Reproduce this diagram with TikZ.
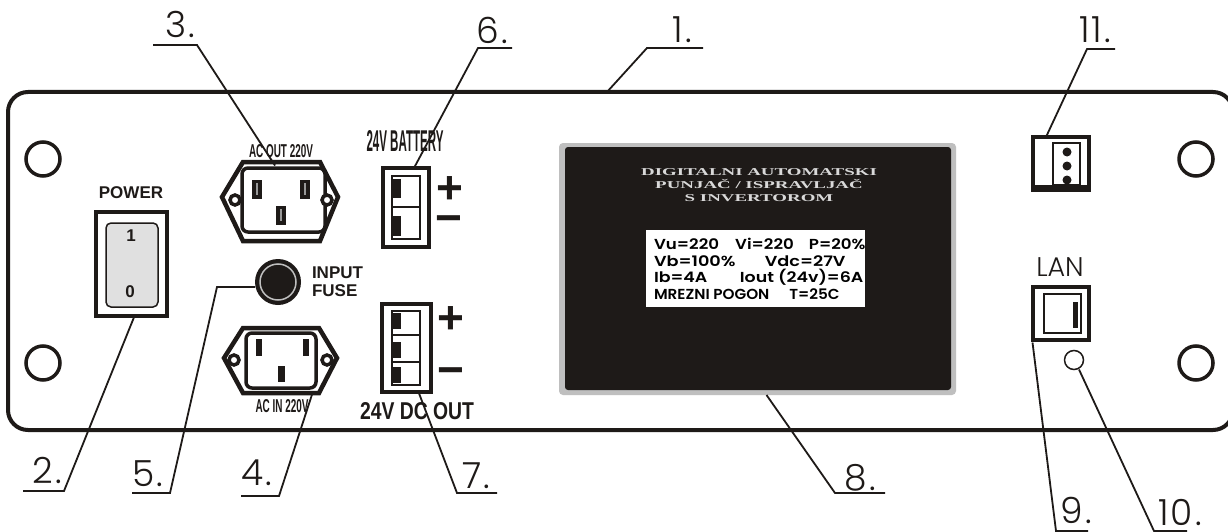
\documentclass[tikz,border=0pt]{standalone}
\usepackage{fontspec}
\setmainfont{Liberation Sans}
\newfontfamily\thinFont[LetterSpace=6]{Poppins Light}
\newfontfamily\lanFont{Poppins Light}
\newfontfamily\lcdFont{Poppins SemiBold}
\newfontfamily\titleFont{Liberation Serif}
\usetikzlibrary{positioning}
\definecolor{inkBlack}{HTML}{1E1A18}
\newcommand{\squeezed}[3]{\resizebox{#1}{#2}{\bfseries #3}}
\newcommand{\titleLine}[1]{\scalebox{1.8}[1]{#1}}
\newcommand{\lcdLine}[2]{\scalebox{#1}[1]{#2}}
\tikzset{x=1pt,y=-1pt,
		every node/.style={align=center,inner sep=0pt,outer sep=0pt,text=inkBlack},
		panel/.style={draw=inkBlack,line width=4pt,rounded corners=20pt},
		hole/.style={circle,draw=inkBlack,line width=3.5pt,minimum size=34pt},
		screw/.style={circle,draw=inkBlack,fill=white,line width=3.5pt,minimum size=10pt},
		boxOuter/.style={rectangle,draw=inkBlack,line width=3.5pt},
		boxInner/.style={rectangle,draw=inkBlack,line width=1.5pt,fill=white},
		socketPin/.style={rectangle,fill=inkBlack,minimum width=10pt,minimum height=19pt},
		socketOuter/.style={draw=inkBlack,line width=4.5pt},
		socketInner/.style={draw=inkBlack,line width=3.5pt,rounded corners=6pt},
		block/.style={rectangle,fill=inkBlack,minimum width=8pt},
		leader/.style={draw=inkBlack,line width=1.8pt},
		number/.style={font=\thinFont\fontsize{36}{40}\selectfont},
		plusMinus/.style={font=\bfseries\fontsize{46}{48}\selectfont},
		smallBold/.style={font=\bfseries\fontsize{17}{18}\selectfont}}
\begin{document}
\begin{tikzpicture}
	\useasboundingbox (0,0) rectangle (1228,532);
	\fill[white] (0,0) rectangle (1228,532);
	\draw[panel] (8,92) rectangle (1233,430);
	%holes
	\foreach \hx/\hy in {43/159,43/363,1196/159,1196/363}
		\node[hole] at (\hx,\hy) {};
	%switch
	\node[smallBold] (powerText) at (131,193) {POWER};
	\node[boxOuter,minimum width=71pt,minimum height=104pt] (switch) at (131.5,264) {};
	\node[draw=inkBlack,line width=1.5pt,fill=black!12,rounded corners=5pt,minimum width=52pt,minimum height=84pt] (rocker) at (132,265) {};
	\node[smallBold] (rockerOn) at (131,236) {1};
	\node[smallBold] (rockerOff) at (130,292) {0};
	%output socket
	\node (acout) [minimum width=116pt,minimum height=79pt] at (280,201) {};
	\draw[socketOuter] (243,162) -- (320,162) -- (338,197) -- (320,241) -- (243,241) -- (222,197) -- cycle;
	\draw[socketInner] (242,168) rectangle (325,232);
	\node[screw] (outScrewA) at (235,200) {};
	\node[screw] (outScrewB) at (327,200) {};
	\foreach \px/\py in {257/189,305/189,281/215}{
		\node[socketPin] at (\px,\py) {};
		\draw[black!40,line width=1.5pt] (\px,\py-6) -- (\px,\py+6);
	}
	\node (acoutText) at (281,151) {\squeezed{64pt}{13pt}{AC OUT 220V}};
	%fuse
	\node[circle,fill=inkBlack,minimum size=46pt] (fuse) at (278,282) {};
	\node[circle,draw=black!25,line width=1.5pt,minimum size=36pt] (fuseRing) at (278,282) {};
	\node[smallBold,align=left,anchor=west] (fuseText) at (312,282) {INPUT\\FUSE};
	%input socket
	\node (acin) [minimum width=113pt,minimum height=65pt] at (280.5,360.5) {};
	\draw[socketOuter] (243,328) -- (319,328) -- (337,358) -- (319,393) -- (243,393) -- (224,358) -- cycle;
	\draw[socketInner] (246,333) rectangle (316,388);
	\node[screw] (inScrewA) at (234,360) {};
	\node[screw] (inScrewB) at (327,360) {};
	\node[block,minimum width=6pt,minimum height=17pt] at (259,347.5) {};
	\node[block,minimum width=6pt,minimum height=17pt] at (306,347.5) {};
	\node[block,minimum width=7pt,minimum height=16pt] at (281.5,374) {};
	\node (acinText) at (282,406) {\squeezed{53pt}{13pt}{AC IN 220V}};
	%battery connector
	\node (batteryText) at (405,141) {\squeezed{77pt}{21pt}{24V BATTERY}};
	\node[boxOuter,minimum width=46pt,minimum height=79pt] (battery) at (406,207.5) {};
	\node[boxInner,minimum width=28pt,minimum height=63pt] (batteryIn) at (406,207.5) {};
	\draw[inkBlack,line width=1.5pt] (392,207) -- (420,207);
	\node[block,minimum height=19pt] at (397,188.5) {};
	\node[block,minimum height=20pt] at (397,226) {};
	\node[plusMinus] (batteryPlus) at (450,190) {+};
	\node[plusMinus] (batteryMinus) at (449,225) {\textminus};
	%dc output connector
	\node[boxOuter,minimum width=49pt,minimum height=88pt] (dcout) at (406.5,348) {};
	\node[boxInner,minimum width=28pt,minimum height=74pt] (dcoutIn) at (406,348) {};
	\draw[inkBlack,line width=1.5pt] (392,335) -- (420,335);
	\draw[inkBlack,line width=1.5pt] (391,362) -- (420,362);
	\foreach \by in {321,350,374.5}
		\node[block,minimum height=16pt] at (397,\by) {};
	\node[plusMinus] (dcPlus) at (451,320) {+};
	\node[plusMinus] (dcMinus) at (451,377) {\textminus};
	\node (dcoutText) at (417,411) {\squeezed{114pt}{17pt}{24V DC OUT}};
	%display
	\node[fill=black!25,rounded corners=4pt,minimum width=397pt,minimum height=252pt] (frame) at (757.5,269) {};
	\node[fill=inkBlack,rounded corners=3pt,minimum width=386pt,minimum height=243pt] (lcd) at (758,268.5) {};
	\node[text=black!15,font=\titleFont\bfseries\fontsize{10.5}{13}\selectfont] (lcdTitle) at (759,185) {\titleLine{DIGITALNI AUTOMATSKI}\\\titleLine{PUNJAČ / ISPRAVLJAČ}\\\titleLine{S INVERTOROM}};
	\node[fill=white,minimum width=219pt,minimum height=77pt] (lcdScreen) at (755.5,268.5) {};
	\node[align=left,anchor=west,text=black,font=\lcdFont\fontsize{14.5}{16.7}\selectfont] (lcdValues) at (654,269) {\lcdLine{1.15}{Vu=220\hspace{14pt}Vi=220\hspace{13pt}P=20\%}\\\lcdLine{1.22}{Vb=100\%\hspace{24pt}Vdc=27V}\\\lcdLine{1.2}{Ib=4A\hspace{27pt}Iout (24v)=6A}\\\lcdLine{1.05}{MREZNI POGON\hspace{19pt}T=25C}};
	%network parts
	\node[font=\lanFont\fontsize{27}{30}\selectfont] (lanText) at (1060,267) {LAN};
	\node[boxOuter,line width=4pt,minimum width=56pt,minimum height=53pt] (lan) at (1060.5,313) {};
	\node[boxInner,minimum width=37pt,minimum height=39pt] (lanIn) at (1062.5,313.5) {};
	\node[block,minimum width=5pt,minimum height=26pt] at (1075.5,315) {};
	\node[circle,draw=inkBlack,line width=1.5pt,minimum size=19pt] (led) at (1074,360) {};
	\node[boxOuter,minimum width=56pt,minimum height=53pt] (terminal) at (1061,163.5) {};
	\fill[inkBlack] (1032,185) rectangle (1090,191);
	\node[boxInner,minimum width=27pt,minimum height=42pt] (terminalIn) at (1066.5,164) {};
	\foreach \dy in {152,166,180}
		\node[circle,fill=inkBlack,minimum size=9pt] at (1067,\dy) {};
	%numbers
	\node[number] (num1) at (682,30) {1.};
	\node[number] (num2) at (47,470) {2.};
	\node[number] (num3) at (180,24) {3.};
	\node[number] (num4) at (257,473) {4.};
	\node[number] (num5) at (148,474) {5.};
	\node[number] (num6) at (492,30) {6.};
	\node[number] (num7) at (476,476) {7.};
	\node[number] (num8) at (860,478) {8.};
	\node[number] (num9) at (1076,510) {9.};
	\node[number] (num10) at (1180,512) {10.};
	\node[number] (num11) at (1095,30) {11.};
	%bends
	\coordinate (bend1) at (647,48);	\coordinate (end1) at (703,48);
	\coordinate (bend2) at (64,491);	\coordinate (end2) at (23,491);
	\coordinate (bend3) at (197,45);	\coordinate (end3) at (153,45);
	\coordinate (bend4) at (279,496);	\coordinate (end4) at (241,496);
	\coordinate (bend5a) at (217,287);	\coordinate (bend5) at (170,493);	\coordinate (end5) at (132,493);
	\coordinate (bend6) at (478,48);	\coordinate (end6) at (512,48);
	\coordinate (bend7) at (457,493);	\coordinate (end7) at (497,493);
	\coordinate (bend8) at (835,493);	\coordinate (end8) at (885,493);
	\coordinate (bend9) at (1056,531);	\coordinate (end9) at (1088,531);
	\coordinate (bend10) at (1154,531);	\coordinate (end10) at (1187,531);
	\coordinate (bend11) at (1087,49);	\coordinate (end11) at (1115,49);
	\coordinate (panelTop) at (607,92);
	%leaders
	\draw[leader] (end1) -- (bend1) -- (panelTop);
	\draw[leader] (end2) -- (bend2) -- ([xshift=3pt]switch.south);
	\draw[leader] (end3) -- (bend3) -- ([xshift=-5pt,yshift=-4pt]acout.north);
	\draw[leader] (end4) -- (bend4) -- ([xshift=32pt]acin.south);
	\draw[leader] (end5) -- (bend5) -- (bend5a) -- (fuse.west |- bend5a);
	\draw[leader] (end6) -- (bend6) -- ([xshift=8pt]battery.north);
	\draw[leader] (end7) -- (bend7) -- ([xshift=12pt]dcout.south);
	\draw[leader] (end8) -- (bend8) -- ([xshift=9pt]frame.south);
	\draw[leader] (end9) -- (bend9) -- ([yshift=-3pt]lan.south west);
	\draw[leader] (end10) -- (bend10) -- ([xshift=5pt]led.south);
	\draw[leader] (end11) -- (bend11) -- ([xshift=-15pt]terminal.north);
\end{tikzpicture}
\end{document}
